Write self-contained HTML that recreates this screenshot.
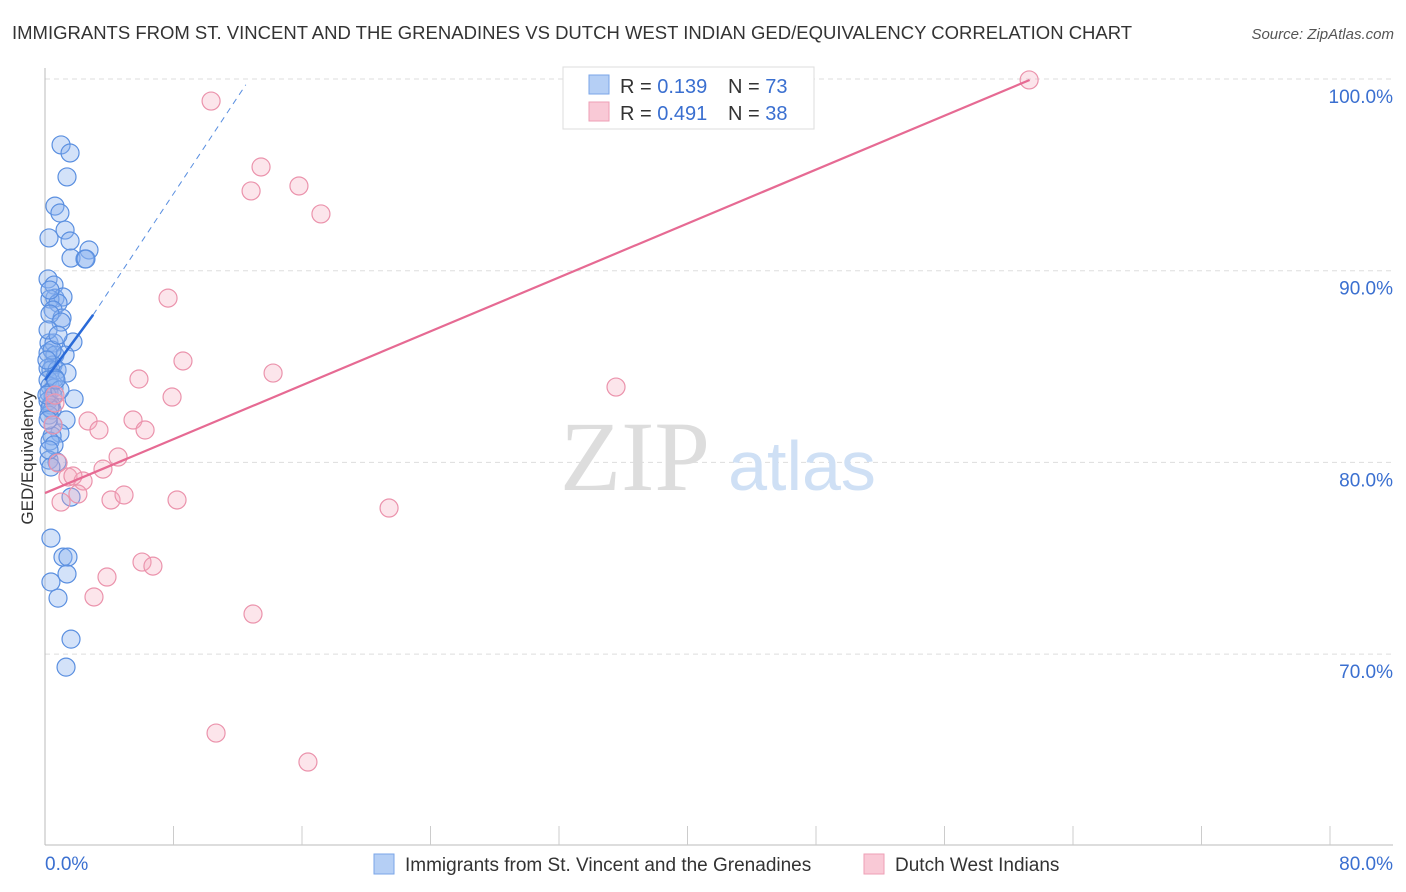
<!DOCTYPE html>
<html><head><meta charset="utf-8"><style>
body{margin:0;background:#fff;font-family:"Liberation Sans",sans-serif;}
svg{display:block}
</style></head><body>
<svg id="chart" width="1406" height="892">
<text x="12" y="39" font-size="18.5" fill="#333">IMMIGRANTS FROM ST. VINCENT AND THE GRENADINES VS DUTCH WEST INDIAN GED/EQUIVALENCY CORRELATION CHART</text>
<text x="1394" y="39" font-size="15" fill="#555" font-style="italic" text-anchor="end">Source: ZipAtlas.com</text>
<g id="grid"></g>
<text x="635" y="490" font-size="100" font-family="Liberation Serif,serif" fill="#ddd" text-anchor="middle">ZIP</text>
<text x="802" y="490" font-size="70" fill="#cfe0f5" text-anchor="middle">atlas</text>
<g id="points"></g>
<g id="lines"></g>
<text x="33" y="458" font-size="17" fill="#333" text-anchor="middle" transform="rotate(-90 33 458)">GED/Equivalency</text>
<g>
<rect x="563" y="67" width="251" height="62" fill="#fff" stroke="#ddd"/>
<rect x="589" y="75" width="20" height="19" fill="#b5cff5" stroke="#7aa6e8"/>
<rect x="589" y="102" width="20" height="19" fill="#f9c9d6" stroke="#ee9fb6"/>
<text x="620" y="93" font-size="20" fill="#333">R = <tspan fill="#3a6fd0">0.139</tspan></text>
<text x="728" y="93" font-size="20" fill="#333">N = <tspan fill="#3a6fd0">73</tspan></text>
<text x="620" y="120" font-size="20" fill="#333">R = <tspan fill="#3a6fd0">0.491</tspan></text>
<text x="728" y="120" font-size="20" fill="#333">N = <tspan fill="#3a6fd0">38</tspan></text>
</g>
<g>
<rect x="374" y="854" width="20" height="20" fill="#b5cff5" stroke="#7aa6e8"/>
<text x="405" y="871" font-size="19" fill="#333">Immigrants from St. Vincent and the Grenadines</text>
<rect x="864" y="854" width="20" height="20" fill="#f9c9d6" stroke="#ee9fb6"/>
<text x="895" y="871" font-size="19" fill="#333">Dutch West Indians</text>
</g>
</svg>
<script>
const yTicks=[70,80,90,100];
const yTickLabels=["70.0%","80.0%","90.0%","100.0%"];
const xTickLabels=["0.0%","80.0%"];
const blueX=[1.0,1.56,1.37,0.62,0.93,0.25,1.25,1.56,2.74,1.62,2.49,2.55,0.19,0.56,0.62,1.12,0.31,0.81,0.5,1.06,0.31,1.0,0.25,0.56,1.74,0.19,0.62,1.25,0.5,0.19,0.37,0.75,1.37,0.19,0.31,0.56,0.25,0.5,1.81,0.19,0.37,0.44,0.25,1.31,0.93,0.44,0.31,0.56,0.25,0.75,0.37,1.62,0.37,1.12,1.43,1.37,0.37,0.81,1.62,1.31,0.19,0.31,0.5,0.12,0.62,0.93,0.19,0.25,0.68,0.44,0.12,0.81,0.31];
const blueY=[96.56,96.14,94.89,93.37,93.01,91.71,92.12,91.55,91.08,90.66,90.61,90.61,89.57,89.25,88.57,88.63,88.52,88.31,87.95,87.53,87.74,87.32,86.23,86.23,86.28,85.71,85.6,85.6,85.08,84.92,84.82,84.82,84.66,84.3,83.98,83.88,83.62,83.46,83.31,83.2,82.99,82.73,82.47,82.21,81.53,81.38,81.11,80.91,80.12,80.02,79.76,78.19,76.05,75.06,75.06,74.18,73.76,72.92,70.78,69.32,86.91,82.84,81.95,83.51,84.4,83.78,82.21,80.65,84.3,85.86,85.34,86.64,88.99];
const pinkX=[10.34,61.27,13.45,12.83,15.81,17.18,7.66,8.59,5.85,14.2,7.91,35.55,5.48,6.23,2.68,3.36,0.62,0.5,4.55,3.61,0.81,1.43,2.37,2.05,1.0,4.11,4.92,8.22,21.42,6.04,6.72,3.86,3.05,12.95,10.65,16.37,0.62,1.74];
const pinkY=[98.85,99.95,95.41,94.16,94.42,92.96,88.57,85.29,84.35,84.66,83.41,83.93,82.21,81.69,82.16,81.69,83.1,81.95,80.28,79.65,79.97,79.24,79.03,78.35,77.93,78.04,78.3,78.04,77.62,74.8,74.59,74.02,72.98,72.09,65.88,64.37,83.51,79.29];
const blueTrend=[[0,84.3],[3.0,87.7],[12.5,99.7]];
const pinkTrend=[[0,78.4],[61.3,99.95]];
const NS="http://www.w3.org/2000/svg";
const X=v=>45+v/80*1285;
const Y=v=>79+(100-v)*19.17;
function mk(t,a,p){const e=document.createElementNS(NS,t);for(const k in a)e.setAttribute(k,a[k]);p.appendChild(e);return e;}
const grid=document.getElementById('grid');
yTicks.forEach((t,i)=>{
 const l=mk('line',{x1:45,x2:1393,y1:Y(t),y2:Y(t),stroke:'#ddd','stroke-dasharray':'5,4'},grid);
 
 
 const tx=mk('text',{x:1393,y:Y(t)+24,'font-size':19,fill:'#3a6fd0','text-anchor':'end'},grid);
 tx.textContent=yTickLabels[i];
 
 
});
const ax=mk('line',{x1:45,x2:45,y1:68,y2:845,stroke:'#bbb'},grid);


const bx=mk('line',{x1:45,x2:1393,y1:845,y2:845,stroke:'#bbb'},grid);


for(let v=8;v<=80;v+=8){
 const t=mk('line',{x1:X(v),x2:X(v),y1:826,y2:845,stroke:'#ccc'},grid);
 
 
}
[[0,'start',45],[80,'end',1393]].forEach((d,i)=>{
 const t=mk('text',{x:d[2],y:870,'font-size':19,fill:'#3a6fd0','text-anchor':d[1]},grid);
 t.textContent=xTickLabels[i];
 
 
});
const pts=document.getElementById('points');
blueX.forEach((x,i)=>{
 const c=mk('circle',{cx:X(x),cy:Y(blueY[i]),r:9,fill:'rgba(140,180,240,0.38)',stroke:'#5a8fe0','stroke-width':1.2},pts);
 
 
});
pinkX.forEach((x,i)=>{
 const c=mk('circle',{cx:X(x),cy:Y(pinkY[i]),r:9,fill:'rgba(245,170,190,0.3)',stroke:'#eb93ac','stroke-width':1.2},pts);
 
 
});
const ln=document.getElementById('lines');
const b1=mk('line',{x1:X(blueTrend[0][0]),y1:Y(blueTrend[0][1]),x2:X(blueTrend[1][0]),y2:Y(blueTrend[1][1]),stroke:'#2a6ad8','stroke-width':2.5},ln);


const b2=mk('line',{x1:X(blueTrend[1][0]),y1:Y(blueTrend[1][1]),x2:X(blueTrend[2][0]),y2:Y(blueTrend[2][1]),stroke:'#5a8fe0','stroke-width':1,'stroke-dasharray':'6,5'},ln);


const p1=mk('line',{x1:X(pinkTrend[0][0]),y1:Y(pinkTrend[0][1]),x2:X(pinkTrend[1][0]),y2:Y(pinkTrend[1][1]),stroke:'#e66a93','stroke-width':2.2},ln);


</script>
</body></html>
